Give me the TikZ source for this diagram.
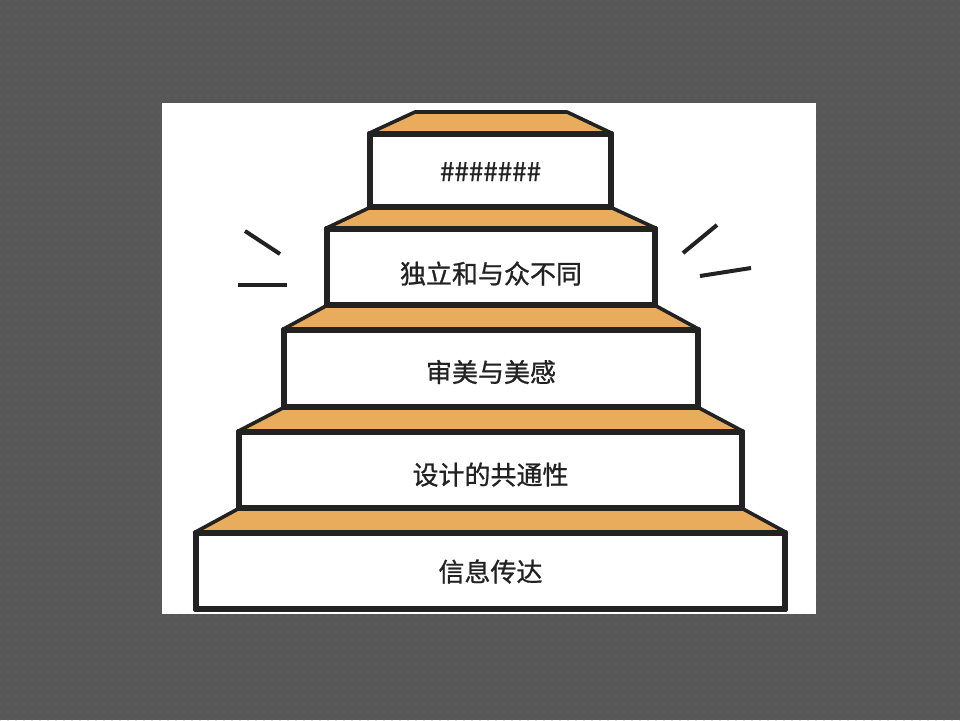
\documentclass[tikz,border=0pt]{standalone}
\usepackage{fontspec}
\setmainfont{Noto Sans CJK SC}
\newfontfamily\stepfont{Noto Sans CJK SC}[FakeBold=0.9]
\usetikzlibrary{patterns.meta}
\definecolor{bggray}{HTML}{575757}
\definecolor{dotgray}{HTML}{6E6E6E}
\definecolor{stepfill}{HTML}{E8AC5C}
\definecolor{ink}{HTML}{222222}
\tikzset{
  edge/.style={draw=ink, line width=3.6pt, line join=round},
  % the label's baseline sits on the box centre; each label is lowered from there
  stepbox/.style={edge, fill=white, rectangle, inner sep=0pt, text=ink,
    text height=0pt, text depth=0pt,
    font=\stepfont\fontsize{26}{30}\selectfont},
  tread/.style={edge, fill=stepfill},
  spark/.style={draw=ink, line width=4pt}
}
\begin{document}
\begin{tikzpicture}[x=1pt, y=-1pt]
  % backdrop and white panel
  \useasboundingbox (0,0) rectangle (960,720);
  \fill[bggray] (0,0) rectangle (960,720);
  \pattern[pattern={Dots[distance=8pt, radius=0.7pt]}, pattern color=dotgray] (0,0) rectangle (960,720);
  \fill[white] (162,103) rectangle (816,614);

  % the five steps, top to bottom
  \node[stepbox, minimum width=239pt, minimum height=71pt] (s1) at (490.5,170.5) {\raisebox{-10.5pt}{\#\#\#\#\#\#\#}};
  \node[stepbox, minimum width=326pt, minimum height=74pt] (s2) at (491,267) {\raisebox{-16.5pt}{独立和与众不同}};
  \node[stepbox, minimum width=412pt, minimum height=75pt] (s3) at (491,368.5) {\raisebox{-13.5pt}{审美与美感}};
  \node[stepbox, minimum width=501pt, minimum height=74pt] (s4) at (490.5,470) {\raisebox{-14.5pt}{设计的共通性}};
  \node[stepbox, minimum width=587pt, minimum height=74pt] (s5) at (490.5,571) {\raisebox{-10.5pt}{信息传达}};

  % orange treads between the steps
  \coordinate (t0l) at (415,112);
  \coordinate (t0r) at (567,112);
  \draw[tread] (t0l) -- (t0r) -- (s1.north east) -- (s1.north west) -- cycle;
  \draw[tread] (s1.south west) -- (s1.south east) -- (s2.north east) -- (s2.north west) -- cycle;
  \draw[tread] (s2.south west) -- (s2.south east) -- (s3.north east) -- (s3.north west) -- cycle;
  \draw[tread] (s3.south west) -- (s3.south east) -- (s4.north east) -- (s4.north west) -- cycle;
  \draw[tread] (s4.south west) -- (s4.south east) -- (s5.north east) -- (s5.north west) -- cycle;

  % redraw step outlines over the treads
  \foreach \s in {s1,s2,s3,s4,s5}
    \draw[edge] (\s.north west) rectangle (\s.south east);

  % spark marks on both sides
  \coordinate (la1) at (245,231); \coordinate (la2) at (280,254);
  \coordinate (lb1) at (238,285); \coordinate (lb2) at (287,285);
  \coordinate (ra1) at (683,253); \coordinate (ra2) at (717,225);
  \coordinate (rb1) at (700,276); \coordinate (rb2) at (751,268);
  \draw[spark] (la1) -- (la2);
  \draw[spark] (lb1) -- (lb2);
  \draw[spark] (ra1) -- (ra2);
  \draw[spark] (rb1) -- (rb2);
\end{tikzpicture}
\end{document}
